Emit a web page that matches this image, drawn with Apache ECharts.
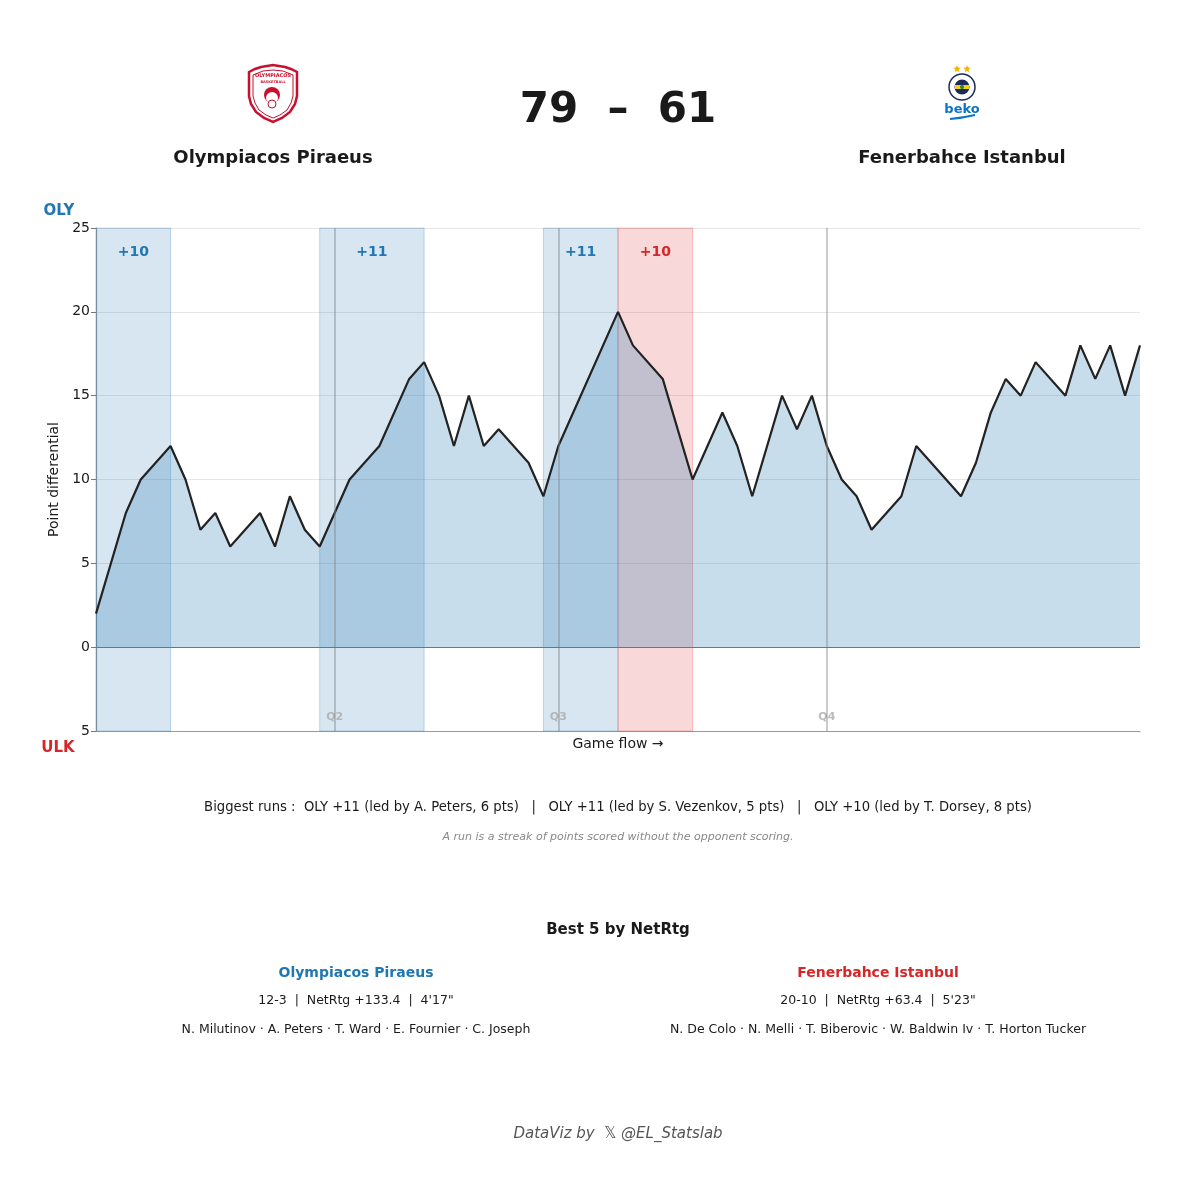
<!DOCTYPE html>
<html>
<head>
<meta charset="utf-8">
<script src="https://cdn.jsdelivr.net/npm/echarts@6/dist/echarts.min.js"></script>
<style>
  html, body { margin: 0; padding: 0; background: #fff; }
  #chart { width: 1200px; height: 1200px; }
</style>
</head>
<body>
<div id="chart"></div>
<script>
// game flow: index of scoring event and point differential (OLY - ULK)
var flowIdx = [0, 2, 3, 5, 6, 7, 8, 9, 11, 12, 13, 14, 15, 17, 19, 21, 22, 23, 24, 25, 26, 27, 29, 30, 31, 35, 36, 38, 40, 42, 43, 44, 46, 47, 48, 49, 50, 51, 52, 54, 55, 58, 59, 60, 61, 62, 63, 65, 66, 67, 68, 69, 70];
var diffVals = [2, 8, 10, 12, 10, 7, 8, 6, 8, 6, 9, 7, 6, 10, 12, 16, 17, 15, 12, 15, 12, 13, 11, 9, 12, 20, 18, 16, 10, 14, 12, 9, 15, 13, 15, 12, 10, 9, 7, 9, 12, 9, 11, 14, 16, 15, 17, 15, 18, 16, 18, 15, 18];

// biggest runs
var runStart = [0, 15, 30, 35];
var runEnd = [5, 22, 35, 40];
var runLabel = ['+10', '+11', '+11', '+10'];
var runTeam = ['OLY', 'OLY', 'OLY', 'ULK'];

// quarter starts
var quarterIdx = [16, 31, 49];
var quarterName = ['Q2', 'Q3', 'Q4'];

var yTicks = [-5, 25, 5]; // min, max, step

var BLUE = '#1f77b4';
var RED = '#d62728';
var FONT = 'DejaVu Sans';

var chart = echarts.init(document.getElementById('chart'));

var lineData = flowIdx.map(function (x, i) { return [x, diffVals[i]]; });

var bandData = runStart.map(function (s, i) {
	var c = runTeam[i] == 'OLY' ? BLUE : RED;
	return [{
		xAxis: s,
		itemStyle: {
			color: runTeam[i] == 'OLY' ? 'rgba(31,119,180,0.18)' : 'rgba(214,39,40,0.18)',
			borderColor: runTeam[i] == 'OLY' ? 'rgba(31,119,180,0.25)' : 'rgba(214,39,40,0.25)',
			borderWidth: 1
		},
		label: {
			show: true,
			formatter: runLabel[i],
			position: 'insideTop',
			distance: 18,
			color: c,
			fontSize: 14,
			fontWeight: 'bold',
			fontFamily: FONT
		}
	}, { xAxis: runEnd[i] }];
});

var qLabels = quarterIdx.map(function (q, i) {
	return { value: [q, -4.2], name: quarterName[i] };
});

function txt(x, y, s, size, color, weight, style, align) {
	return {
		type: 'text',
		x: x,
		y: y,
		style: {
			text: s,
			fill: color || '#1a1a1a',
			font: (style || 'normal') + ' ' + (weight || 'normal') + ' ' + size + 'px "' + FONT + '"',
			textAlign: align || 'center',
			textVerticalAlign: 'middle'
		}
	};
}

// five point star around (cx, cy)
function star(cx, cy, r) {
	var pts = [];
	for (var k = 0; k < 10; k++) {
		var a = -Math.PI / 2 + k * Math.PI / 5;
		var rr = k % 2 ? r * 0.45 : r;
		pts.push([cx + rr * Math.cos(a), cy + rr * Math.sin(a)]);
	}
	return { type: 'polygon', shape: { points: pts }, style: { fill: '#f2b600' } };
}

var shieldOuter = [[249,72],[255,69],[261,67],[273,65],[285,67],[291,69],[297,72],[297,96],[295,104],[290,112],[282,118],[273,122],[264,118],[256,112],[251,104],[249,96]];
var shieldInner = [[253,75],[263,71],[273,70],[283,71],[293,75],[293,96],[291,103],[287,110],[280,115],[273,118],[266,115],[259,110],[255,103],[253,96]];

var option = {
	backgroundColor: '#fff',
	animation: false,
	grid: {
		left: 96,
		right: 60,
		top: 228,
		bottom: 469
	},
	xAxis: {
		type: 'value',
		min: 0,
		max: 70,
		name: 'Game flow →',
		nameLocation: 'middle',
		nameGap: 6,
		nameTextStyle: { color: '#1a1a1a', fontSize: 14, fontFamily: FONT, verticalAlign: 'top' },
		axisLine: { show: true, onZero: false, lineStyle: { color: '#999', width: 1.2 } },
		axisTick: { show: false },
		axisLabel: { show: false },
		splitLine: { show: false }
	},
	yAxis: {
		type: 'value',
		min: yTicks[0],
		max: yTicks[1],
		interval: yTicks[2],
		name: 'Point differential',
		nameLocation: 'middle',
		nameGap: 34,
		nameTextStyle: { color: '#1a1a1a', fontSize: 14, fontFamily: FONT },
		axisLine: { show: true, lineStyle: { color: '#999', width: 1.2 } },
		axisTick: { show: true, length: 5, lineStyle: { color: '#777' } },
		axisLabel: {
			color: '#1a1a1a',
			fontSize: 14,
			fontFamily: FONT,
			margin: 6,
			formatter: function (v) { return Math.abs(v); }
		},
		splitLine: { lineStyle: { color: '#e6e6e6', width: 1 } }
	},
	series: [{
		// run bands and quarter lines
		type: 'line',
		data: [],
		z: 1,
		markArea: { silent: true, data: bandData },
		markLine: {
			silent: true,
			symbol: 'none',
			label: { show: false },
			lineStyle: { color: 'rgba(130,130,130,0.55)', width: 1.5, type: 'solid' },
			data: quarterIdx.map(function (q) { return { xAxis: q }; })
		}
	}, {
		name: 'flow',
		type: 'line',
		data: lineData,
		z: 3,
		symbol: 'none',
		lineStyle: { color: '#222', width: 2.2 },
		areaStyle: { color: 'rgba(31,119,180,0.25)', opacity: 1, origin: 'auto' },
		markLine: {
			silent: true,
			symbol: 'none',
			label: { show: false },
			lineStyle: { color: '#5a7c98', width: 1.2, type: 'solid' },
			data: [{ yAxis: 0 }]
		}
	}, {
		type: 'scatter',
		data: qLabels,
		symbolSize: 0,
		z: 4,
		label: {
			show: true,
			position: 'inside',
			formatter: '{b}',
			color: '#aaa',
			fontSize: 11,
			fontWeight: 'bold',
			fontFamily: FONT
		}
	}],
	graphic: [
		// score + team names
		txt(618, 111, '79  –  61', 42, '#1a1a1a', 'bold'),
		txt(273, 158, 'Olympiacos Piraeus', 18, '#1a1a1a', 'bold'),
		txt(962, 158, 'Fenerbahce Istanbul', 18, '#1a1a1a', 'bold'),
		// olympiacos badge
		{ type: 'polygon', shape: { points: shieldOuter }, style: { fill: '#fff', stroke: '#c8102e', lineWidth: 2.5 } },
		{ type: 'polygon', shape: { points: shieldInner }, style: { fill: 'none', stroke: '#c8102e', lineWidth: 1 } },
		txt(273, 76, 'OLYMPIACOS', 5, '#c8102e', 'bold'),
		txt(273, 82, 'BASKETBALL', 3.5, '#c8102e', 'bold'),
		{ type: 'circle', shape: { cx: 272, cy: 95, r: 8 }, style: { fill: '#c8102e' } },
		{ type: 'circle', shape: { cx: 272, cy: 98, r: 6 }, style: { fill: '#fff' } },
		{ type: 'circle', shape: { cx: 272, cy: 104, r: 4 }, style: { fill: 'none', stroke: '#c8102e', lineWidth: 1 } },
		// fenerbahce badge
		star(957, 69, 4),
		star(967, 69, 4),
		{ type: 'circle', shape: { cx: 962, cy: 87, r: 13 }, style: { fill: '#fff', stroke: '#1d2a5a', lineWidth: 1.5 } },
		{ type: 'circle', shape: { cx: 962, cy: 87, r: 7.5 }, style: { fill: '#1d2a5a' } },
		{ type: 'rect', shape: { x: 955, y: 85, width: 14, height: 4 }, style: { fill: '#f7d117' } },
		{ type: 'circle', shape: { cx: 962, cy: 87, r: 2 }, style: { fill: '#1c8a3e' } },
		txt(962, 110, 'beko', 13, '#0a73c8', 'bold'),
		{ type: 'bezierCurve', shape: { x1: 950, y1: 119, x2: 975, y2: 115, cpx1: 962, cpy1: 118 }, style: { stroke: '#0a73c8', lineWidth: 2, fill: 'none' } },
		// team markers on axis
		txt(59, 211, 'OLY', 15, BLUE, 'bold'),
		txt(58, 748, 'ULK', 15, RED, 'bold'),
		// runs summary
		txt(618, 808, 'Biggest runs :  OLY +11 (led by A. Peters, 6 pts)   |   OLY +11 (led by S. Vezenkov, 5 pts)   |   OLY +10 (led by T. Dorsey, 8 pts)', 13.2, '#1a1a1a'),
		txt(618, 837, 'A run is a streak of points scored without the opponent scoring.', 11, '#888', 'normal', 'italic'),
		// best 5
		txt(618, 930, 'Best 5 by NetRtg', 15, '#1a1a1a', 'bold'),
		txt(356, 973, 'Olympiacos Piraeus', 14, BLUE, 'bold'),
		txt(356, 1001, '12-3  |  NetRtg +133.4  |  4\'17"', 12.5, '#1a1a1a'),
		txt(356, 1030, 'N. Milutinov · A. Peters · T. Ward · E. Fournier · C. Joseph', 12.5, '#1a1a1a'),
		txt(878, 973, 'Fenerbahce Istanbul', 14, RED, 'bold'),
		txt(878, 1001, '20-10  |  NetRtg +63.4  |  5\'23"', 12.5, '#1a1a1a'),
		txt(878, 1030, 'N. De Colo · N. Melli · T. Biberovic · W. Baldwin Iv · T. Horton Tucker', 12.5, '#1a1a1a'),
		// footer
		txt(618, 1134, 'DataViz by  𝕏 @EL_Statslab', 15, '#555', 'normal', 'italic')
	]
};

chart.setOption(option);
</script>
</body>
</html>
